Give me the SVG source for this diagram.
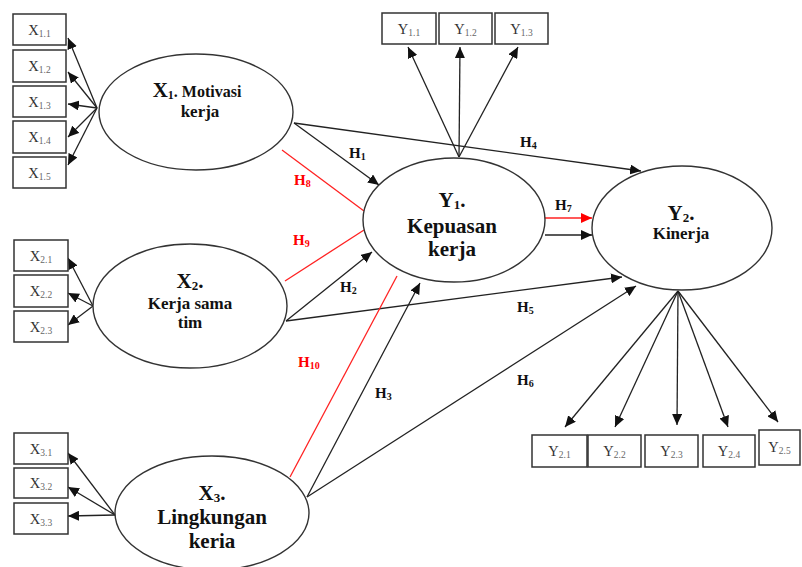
<svg xmlns="http://www.w3.org/2000/svg" width="802" height="567" viewBox="0 0 802 567">
<defs>
<marker id="ah" markerUnits="userSpaceOnUse" markerWidth="12" markerHeight="10" refX="11" refY="5" orient="auto"><path d="M0,0 L11,5 L0,10 z" fill="#111"/></marker>
<marker id="ahr" markerUnits="userSpaceOnUse" markerWidth="12" markerHeight="10" refX="11" refY="5" orient="auto"><path d="M0,0 L11,5 L0,10 z" fill="#f00"/></marker>
<style>
.box{fill:#fff;stroke:#333;stroke-width:1.5}
.ell{fill:#fff;stroke:#333;stroke-width:1.4}
.arr{stroke:#222;stroke-width:1.3;fill:none;marker-end:url(#ah)}
.red{stroke:#f22;stroke-width:1.3;fill:none}
.ind{font-family:"Liberation Serif",serif;font-size:14.5px;fill:#333;text-anchor:middle}
.sub{font-size:9.5px;fill:#666}
.lat{font-family:"Liberation Serif",serif;font-weight:bold;fill:#111;text-anchor:middle}
.h{font-family:"Liberation Serif",serif;font-weight:bold;font-size:15px;fill:#111}
.hr{fill:#f00}
.hs{font-size:10px}
</style>
</defs>
<rect width="802" height="567" fill="#fff"/>

<g id="connectors">
<line class="arr" x1="97" y1="108" x2="68" y2="38"/>
<line class="arr" x1="97" y1="108" x2="68" y2="72"/>
<line class="arr" x1="97" y1="108" x2="68" y2="104"/>
<line class="arr" x1="97" y1="108" x2="68" y2="137"/>
<line class="arr" x1="97" y1="108" x2="68" y2="165"/>
<line class="arr" x1="459" y1="157" x2="408" y2="47"/>
<line class="arr" x1="459" y1="157" x2="460" y2="47"/>
<line class="arr" x1="459" y1="157" x2="518" y2="47"/>
<line class="arr" x1="93" y1="306" x2="68" y2="258"/>
<line class="arr" x1="93" y1="306" x2="68" y2="293"/>
<line class="arr" x1="93" y1="306" x2="68" y2="325"/>
<line class="arr" x1="115" y1="515" x2="68" y2="453"/>
<line class="arr" x1="115" y1="515" x2="68" y2="487"/>
<line class="arr" x1="115" y1="515" x2="68" y2="516"/>
<line class="arr" x1="678" y1="291" x2="565" y2="427"/>
<line class="arr" x1="678" y1="291" x2="615" y2="427"/>
<line class="arr" x1="678" y1="291" x2="677" y2="425"/>
<line class="arr" x1="678" y1="291" x2="728" y2="427"/>
<line class="arr" x1="678" y1="291" x2="778" y2="422"/>
<line class="arr" x1="294" y1="123" x2="379" y2="185"/>
<line class="arr" x1="294" y1="123" x2="641" y2="171"/>
<line class="red" x1="282" y1="150" x2="364" y2="211"/>
<line class="red" x1="285" y1="281" x2="364" y2="230"/>
<line class="arr" x1="286" y1="321" x2="372" y2="252"/>
<line class="arr" x1="286" y1="321" x2="622" y2="277"/>
<line class="red" x1="290" y1="477" x2="397" y2="276"/>
<line class="arr" x1="307" y1="497" x2="420" y2="283"/>
<line class="arr" x1="307" y1="497" x2="636" y2="286"/>
<line class="red" x1="545" y1="218" x2="592" y2="218" marker-end="url(#ahr)"/>
<line class="arr" x1="545" y1="235" x2="592" y2="235"/>
<text class="h" x="349" y="158">H<tspan class="hs" dy="2">1</tspan></text>
<text class="h" x="520" y="147">H<tspan class="hs" dy="2">4</tspan></text>
<text class="h hr" x="294" y="185">H<tspan class="hs" dy="2">8</tspan></text>
<text class="h hr" x="293" y="245">H<tspan class="hs" dy="2">9</tspan></text>
<text class="h" x="340" y="292">H<tspan class="hs" dy="2">2</tspan></text>
<text class="h" x="517" y="312">H<tspan class="hs" dy="2">5</tspan></text>
<text class="h hr" x="298" y="367">H<tspan class="hs" dy="2">10</tspan></text>
<text class="h" x="375" y="398">H<tspan class="hs" dy="2">3</tspan></text>
<text class="h" x="517" y="385">H<tspan class="hs" dy="2">6</tspan></text>
<text class="h" x="555" y="210">H<tspan class="hs" dy="2">7</tspan></text>
</g>

<g id="X1_indicators">
<rect class="box" x="13" y="14" width="53" height="31"/><text class="ind" x="39.5" y="35">X<tspan class="sub" dy="2">1.1</tspan></text>
<rect class="box" x="13" y="50" width="53" height="32"/><text class="ind" x="39.5" y="71">X<tspan class="sub" dy="2">1.2</tspan></text>
<rect class="box" x="13" y="86" width="53" height="31"/><text class="ind" x="39.5" y="107">X<tspan class="sub" dy="2">1.3</tspan></text>
<rect class="box" x="13" y="121" width="53" height="32"/><text class="ind" x="39.5" y="142">X<tspan class="sub" dy="2">1.4</tspan></text>
<rect class="box" x="13" y="157" width="53" height="31"/><text class="ind" x="39.5" y="178">X<tspan class="sub" dy="2">1.5</tspan></text>
</g>
<g id="X2_indicators">
<rect class="box" x="14" y="240" width="54" height="31"/><text class="ind" x="41" y="261">X<tspan class="sub" dy="2">2.1</tspan></text>
<rect class="box" x="14" y="275" width="54" height="32"/><text class="ind" x="41" y="296">X<tspan class="sub" dy="2">2.2</tspan></text>
<rect class="box" x="14" y="311" width="54" height="31"/><text class="ind" x="41" y="332">X<tspan class="sub" dy="2">2.3</tspan></text>
</g>
<g id="X3_indicators">
<rect class="box" x="14" y="433" width="54" height="31"/><text class="ind" x="41" y="454">X<tspan class="sub" dy="2">3.1</tspan></text>
<rect class="box" x="14" y="468" width="54" height="30"/><text class="ind" x="41" y="488">X<tspan class="sub" dy="2">3.2</tspan></text>
<rect class="box" x="14" y="503" width="54" height="31"/><text class="ind" x="41" y="524">X<tspan class="sub" dy="2">3.3</tspan></text>
</g>
<g id="Y1_indicators">
<rect class="box" x="382" y="13" width="54" height="31"/><text class="ind" x="409" y="34">Y<tspan class="sub" dy="2">1.1</tspan></text>
<rect class="box" x="439" y="13" width="53" height="31"/><text class="ind" x="465.5" y="34">Y<tspan class="sub" dy="2">1.2</tspan></text>
<rect class="box" x="495" y="13" width="53" height="31"/><text class="ind" x="521.5" y="34">Y<tspan class="sub" dy="2">1.3</tspan></text>
</g>
<g id="Y2_indicators">
<rect class="box" x="532" y="435" width="55" height="32"/><text class="ind" x="559.5" y="456">Y<tspan class="sub" dy="2">2.1</tspan></text>
<rect class="box" x="588" y="435" width="53" height="32"/><text class="ind" x="614.5" y="456">Y<tspan class="sub" dy="2">2.2</tspan></text>
<rect class="box" x="645" y="435" width="53" height="32"/><text class="ind" x="671.5" y="456">Y<tspan class="sub" dy="2">2.3</tspan></text>
<rect class="box" x="703" y="435" width="52" height="32"/><text class="ind" x="729" y="456">Y<tspan class="sub" dy="2">2.4</tspan></text>
<rect class="box" x="759" y="430" width="41" height="35"/><text class="ind" x="779.5" y="452">Y<tspan class="sub" dy="2">2.5</tspan></text>
</g>

<g id="X1">
<ellipse class="ell" cx="196" cy="112" rx="97" ry="58"/>
<text class="lat" x="197" y="97" font-size="16"><tspan font-size="21">X</tspan><tspan font-size="12" dy="2">1</tspan><tspan dy="-2">. Motivasi</tspan></text>
<text class="lat" x="200" y="117" font-size="17">kerja</text>
</g>
<g id="X2">
<ellipse class="ell" cx="190" cy="306" rx="97" ry="62"/>
<text class="lat" x="190" y="288" font-size="21">X<tspan font-size="13" dy="2">2</tspan><tspan dy="-2">.</tspan></text>
<text class="lat" x="190" y="309" font-size="17">Kerja sama</text>
<text class="lat" x="190" y="328" font-size="17">tim</text>
</g>
<g id="X3">
<ellipse class="ell" cx="212" cy="513" rx="97" ry="57"/>
<text class="lat" x="212" y="500" font-size="21">X<tspan font-size="13" dy="2">3</tspan><tspan dy="-2">.</tspan></text>
<text class="lat" x="212" y="524" font-size="21">Lingkungan</text>
<text class="lat" x="212" y="548" font-size="21">keria</text>
</g>
<g id="Y1">
<ellipse class="ell" cx="454" cy="220" rx="91" ry="62"/>
<text class="lat" x="452" y="207" font-size="21">Y<tspan font-size="13" dy="2">1</tspan><tspan dy="-2">.</tspan></text>
<text class="lat" x="452" y="233" font-size="21">Kepuasan</text>
<text class="lat" x="452" y="256" font-size="21">kerja</text>
</g>
<g id="Y2">
<ellipse class="ell" cx="682" cy="228" rx="90" ry="62"/>
<text class="lat" x="681" y="220" font-size="21">Y<tspan font-size="13" dy="2">2</tspan><tspan dy="-2">.</tspan></text>
<text class="lat" x="681" y="239" font-size="17">Kinerja</text>
</g>
</svg>
